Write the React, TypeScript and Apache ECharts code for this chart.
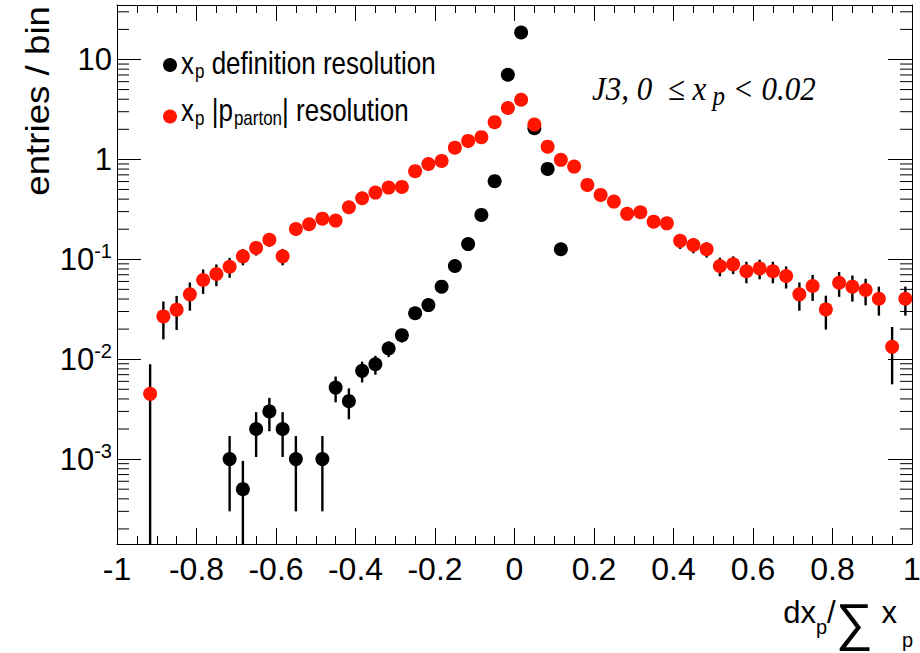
import React, { useEffect, useRef } from 'react';
import * as echarts from 'echarts';

const X_MIN = -1;
const X_MAX = 1;
const X_STEP = 0.2;
const N_BINS = 60;
const Y_MIN = 1.413e-4;
const Y_MAX = 35.1;

// black: x_p definition resolution (60 bins)
const definitionValues: (number | null)[] = [
  null, null, null, null, null, null, null, null, 0.001, 0.0005,
  0.002, 0.003, 0.002, 0.001, null, 0.001, 0.0052, 0.0038, 0.00765, 0.0089,
  0.0128, 0.0174, 0.0288, 0.0348, 0.0532, 0.0857, 0.142, 0.278, 0.605, 7.03,
  18.6, 2.05, 0.803, 0.126, null, null, null, null, null, null,
  null, null, null, null, null, null, null, null, null, null,
  null, null, null, null, null, null, null, null, null, null,
];
const definitionErrors: (number | null)[] = [
  null, null, null, null, null, null, null, null, 0.0007, 0.00046,
  0.00095, 0.0011, 0.00095, 0.0007, null, 0.0007, 0.0015, 0.0013, 0.0018, 0.0019,
  0.0023, 0.0027, 0.0035, 0.0038, 0.0047, 0.006, 0.0077, 0.011, 0.016, 0.054,
  0.087, 0.029, 0.018, 0.007, null, null, null, null, null, null,
  null, null, null, null, null, null, null, null, null, null,
  null, null, null, null, null, null, null, null, null, null,
];

// red: x_p |p_parton| resolution (60 bins)
const partonValues: (number | null)[] = [
  null, null, 0.0045, 0.0268, 0.0313, 0.0446, 0.062, 0.0713, 0.0843, 0.107,
  0.13, 0.157, 0.107, 0.201, 0.224, 0.255, 0.244, 0.332, 0.408, 0.465,
  0.522, 0.53, 0.762, 0.9, 0.966, 1.31, 1.53, 1.67, 2.36, 3.27,
  3.95, 2.23, 1.34, 0.99, 0.847, 0.555, 0.441, 0.378, 0.285, 0.296,
  0.238, 0.229, 0.153, 0.139, 0.126, 0.0857, 0.089, 0.076, 0.081, 0.076,
  0.068, 0.0446, 0.054, 0.0315, 0.0583, 0.0532, 0.0492, 0.0403, 0.0133, 0.0403,
];
const partonErrors: (number | null)[] = [
  null, null, 0.0044, 0.011, 0.0117, 0.014, 0.017, 0.0175, 0.019, 0.02,
  0.021, 0.024, 0.02, 0.028, 0.03, 0.032, 0.031, 0.037, 0.041, 0.044,
  0.047, 0.047, 0.057, 0.062, 0.064, 0.074, 0.08, 0.084, 0.1, 0.118,
  0.13, 0.097, 0.075, 0.065, 0.06, 0.048, 0.043, 0.04, 0.035, 0.035,
  0.031, 0.031, 0.026, 0.024, 0.022, 0.018, 0.018, 0.0185, 0.018, 0.0185,
  0.017, 0.014, 0.0157, 0.0117, 0.0162, 0.0155, 0.0146, 0.013, 0.0077, 0.013,
];

const DEF_NAME = 'x_p definition resolution';
const PART_NAME = 'x_p |p_parton| resolution';

const FONT = '"Liberation Sans", Arial, Helvetica, sans-serif';
const SERIF = '"Liberation Serif", "Times New Roman", serif';
const RED = '#ff1500';

function binCenter(i: number) {
  return X_MIN + ((i + 0.5) * (X_MAX - X_MIN)) / N_BINS;
}
function toPoints(vals: (number | null)[]) {
  const out: number[][] = [];
  vals.forEach((v, i) => { if (v != null) out.push([binCenter(i), v]); });
  return out;
}
function toErrPoints(vals: (number | null)[], errs: (number | null)[]) {
  const out: number[][] = [];
  vals.forEach((v, i) => { if (v != null && errs[i] != null) out.push([binCenter(i), v, errs[i] as number]); });
  return out;
}

const minorYTicks: number[] = [];
for (let e = -4; e <= 1; e++) {
  for (let m = 2; m <= 9; m++) {
    const v = m * Math.pow(10, e);
    if (v > Y_MIN && v < Y_MAX) minorYTicks.push(v);
  }
}

function errorSeries(vals: (number | null)[], errs: (number | null)[], z: number) {
  return {
    type: 'custom',
    silent: true,
    clip: true,
    z,
    xAxisIndex: 0,
    yAxisIndex: 0,
    encode: { x: 0, y: 1 },
    data: toErrPoints(vals, errs),
    renderItem: (params: any, api: any) => {
      const x = api.value(0);
      const v = api.value(1);
      const s = api.value(2);
      const hi = Math.min(v + s, Y_MAX);
      const lo = v - s > Y_MIN ? v - s : Y_MIN;
      const a = api.coord([x, hi]);
      const b = api.coord([x, lo]);
      return {
        type: 'line',
        shape: { x1: a[0], y1: a[1], x2: b[0], y2: b[1] },
        style: { stroke: '#000', lineWidth: 2.4 },
      };
    },
  };
}

function xAxisCfg(position: 'bottom' | 'top', showLabels: boolean) {
  return {
    type: 'value',
    position,
    min: X_MIN,
    max: X_MAX,
    interval: X_STEP,
    axisLine: { show: true, onZero: false, lineStyle: { color: '#000', width: 1 } },
    axisTick: { show: true, inside: true, length: 16, lineStyle: { color: '#000', width: 1 } },
    minorTick: { show: true, splitNumber: 4, length: 8, lineStyle: { color: '#000', width: 1 } },
    splitLine: { show: false },
    minorSplitLine: { show: false },
    axisLabel: {
      show: showLabels,
      fontSize: 32,
      fontFamily: FONT,
      color: '#000',
      margin: 9,
    },
  };
}

function yAxisCfg(position: 'left' | 'right', showLabels: boolean) {
  return {
    type: 'log',
    logBase: 10,
    position,
    min: Y_MIN,
    max: Y_MAX,
    axisLine: { show: true, onZero: false, lineStyle: { color: '#000', width: 1 } },
    axisTick: { show: true, inside: true, length: 24, lineStyle: { color: '#000', width: 1 } },
    splitLine: { show: false },
    axisLabel: {
      show: showLabels,
      fontSize: 31,
      fontFamily: FONT,
      color: '#000',
      margin: 5,
      formatter: (v: number) => {
        const l = Math.log10(v);
        const e = Math.round(l);
        if (Math.abs(l - e) > 1e-6) return '';
        if (e >= 0) return String(Math.round(Math.pow(10, e)));
        return '{b|10}{s|' + e + '}';
      },
      rich: {
        b: { fontSize: 31, fontFamily: FONT, color: '#000' },
        s: { fontSize: 20, fontFamily: FONT, color: '#000', padding: [0, 0, 16, 0] },
      },
    },
  };
}

export default function App() {
  const ref = useRef<HTMLDivElement>(null);
  useEffect(() => {
    if (!ref.current) return;
    const chart = echarts.init(ref.current, null, { renderer: 'svg' });
    const legendRich = {
      m: { fontSize: 26, fontFamily: FONT, color: '#000' },
      s: { fontSize: 17, fontFamily: FONT, color: '#000', padding: [14, 0, 0, 1] },
    };
    chart.setOption({
      animation: false,
      backgroundColor: '#fff',
      grid: { left: 117, right: 8, top: 5, bottom: 109, containLabel: false, outerBoundsMode: 'none' },
      xAxis: [xAxisCfg('bottom', true), xAxisCfg('top', false)],
      yAxis: [yAxisCfg('left', true), yAxisCfg('right', false)],
      series: [
        {
          type: 'custom',
          silent: true,
          clip: false,
          z: 3,
          encode: { x: 0, y: 1 },
          data: minorYTicks.map((v) => [X_MIN, v]),
          renderItem: (params: any, api: any) => {
            const v = api.value(1);
            const l = api.coord([X_MIN, v]);
            const r = api.coord([X_MAX, v]);
            return {
              type: 'group',
              children: [
                { type: 'line', shape: { x1: l[0], y1: l[1], x2: l[0] + 12, y2: l[1] }, style: { stroke: '#000', lineWidth: 1 } },
                { type: 'line', shape: { x1: r[0] - 12, y1: r[1], x2: r[0], y2: r[1] }, style: { stroke: '#000', lineWidth: 1 } },
              ],
            };
          },
        },
        errorSeries(definitionValues, definitionErrors, 4),
        {
          type: 'scatter',
          name: DEF_NAME,
          z: 5,
          symbol: 'circle',
          symbolSize: 14,
          itemStyle: { color: '#000', opacity: 1 },
          data: toPoints(definitionValues),
        },
        errorSeries(partonValues, partonErrors, 6),
        {
          type: 'scatter',
          name: PART_NAME,
          z: 7,
          symbol: 'circle',
          symbolSize: 14,
          itemStyle: { color: RED, opacity: 1 },
          data: toPoints(partonValues),
        },
      ],
      graphic: [
        { type: 'circle', shape: { cx: 170, cy: 65, r: 7 }, style: { fill: '#000' } },
        {
          type: 'text', x: 181, y: 63, scaleY: 1.18,
          style: {
            text: '{m|x}{s|p}{m| definition resolution}',
            verticalAlign: 'middle', align: 'left', rich: legendRich,
          },
        },
        { type: 'circle', shape: { cx: 170, cy: 116.5, r: 7 }, style: { fill: RED } },
        {
          type: 'text', x: 181, y: 110, scaleY: 1.18,
          style: {
            text: '{m|x}{s|p}{m| |p}{s|parton}{m|| resolution}',
            verticalAlign: 'middle', align: 'left', rich: legendRich,
          },
        },
        {
          type: 'text', x: 592, y: 88, scaleY: 1.1,
          style: {
            text: '{i|J3, 0  ≤ x}{p| p}{i| < 0.02}',
            verticalAlign: 'middle', align: 'left',
            rich: {
              i: { fontSize: 31, fontFamily: SERIF, fontStyle: 'italic', color: '#000' },
              p: { fontSize: 25, fontFamily: SERIF, fontStyle: 'italic', color: '#000', padding: [14, 0, 0, 0] },
            },
          },
        },
        {
          type: 'text', x: 913, y: 622,
          style: {
            text: '{m|dx}{s|p}{m|/}{g|∑}{m| x}{t|p}',
            verticalAlign: 'middle', align: 'right',
            rich: {
              m: { fontSize: 31, fontFamily: FONT, color: '#000', padding: [0, 0, 20, 0] },
              s: { fontSize: 20, fontFamily: FONT, color: '#000', padding: [10, 0, 0, 0] },
              g: { fontSize: 52, fontFamily: FONT, color: '#000' },
              t: { fontSize: 20, fontFamily: FONT, color: '#000', padding: [36, 0, 0, 5] },
            },
          },
        },
        {
          type: 'text', x: 37, y: 6, rotation: Math.PI / 2, scaleX: 1.08,
          style: {
            text: 'entries / bin',
            fontSize: 34, fontFamily: FONT, fill: '#000',
            align: 'right', verticalAlign: 'middle',
          },
        },
      ],
    });
    return () => chart.dispose();
  }, []);
  return (
    <div
      ref={ref}
      style={{ position: 'absolute', left: 0, top: 0, width: 920, height: 653, background: '#fff' }}
    />
  );
}
